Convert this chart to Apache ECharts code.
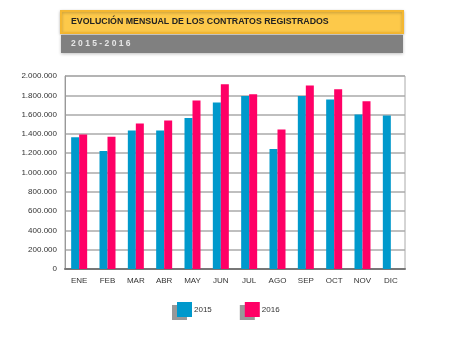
<!DOCTYPE html>
<html><head><meta charset="utf-8">
<script src="https://cdn.jsdelivr.net/npm/echarts@6/dist/echarts.min.js"></script>
<style>html,body{margin:0;padding:0;background:#fff}#c{width:450px;height:343px}</style>
</head><body><div id="c"></div>
<script>
var months = ['ENE','FEB','MAR','ABR','MAY','JUN','JUL','AGO','SEP','OCT','NOV','DIC'];
var v2015 = [1364000,1222000,1436000,1436000,1566000,1725000,1793000,1243000,1793000,1756000,1601000,1591000];
var v2016 = [1395000,1370000,1508000,1539000,1746000,1914000,1811000,1446000,1901000,1862000,1739000,null];
var seriesNames = ['2015','2016'];
var title = 'EVOLUCIÓN MENSUAL DE LOS CONTRATOS REGISTRADOS';
var subtitle = '2 0 1 5 - 2 0 1 6';

var chart = echarts.init(document.getElementById('c'));
function fmt(v){ return String(v).replace(/\B(?=(\d{3})+(?!\d))/g,'.'); }
chart.setOption({
  animation:false,
  textStyle:{fontFamily:'Liberation Sans, Arial, sans-serif'},
  grid:{left:65,right:45,top:76,bottom:74,show:true,borderColor:'#aaa',borderWidth:1},
  graphic:[
    {type:'rect',shape:{x:61,y:11,width:342,height:22},style:{fill:'#FDC94A',stroke:'#F4B731',lineWidth:2,shadowBlur:3,shadowColor:'rgba(0,0,0,0.25)',shadowOffsetY:1}},
    {type:'text',x:71,y:22,style:{text:title,font:'bold 8.8px Liberation Sans, Arial',fill:'#222',verticalAlign:'middle'}},
    {type:'rect',shape:{x:61,y:35,width:342,height:18},style:{fill:'#808080',shadowBlur:3,shadowColor:'rgba(0,0,0,0.25)',shadowOffsetY:1}},
    {type:'text',x:71,y:44,style:{text:subtitle,font:'bold 8.5px Liberation Sans, Arial',fill:'#e6e6e6',verticalAlign:'middle'}}
  ],
  legend:{
    data:seriesNames,bottom:21,left:172,itemGap:33,itemWidth:15,itemHeight:15,
    icon:'rect',
    textStyle:{fontSize:8,color:'#333',padding:[0,0,0,-3]},
    itemStyle:{shadowColor:'#999',shadowOffsetX:-5,shadowOffsetY:3,shadowBlur:0}
  },
  xAxis:{type:'category',data:months,
    axisLine:{lineStyle:{color:'#777',width:2}},axisTick:{show:false},
    axisLabel:{fontSize:8,color:'#333',margin:8}},
  yAxis:{type:'value',min:0,max:2000000,interval:200000,
    axisLine:{show:true,lineStyle:{color:'#999'}},axisTick:{show:false},
    axisLabel:{fontSize:8,color:'#333',margin:8,formatter:fmt},
    splitLine:{lineStyle:{color:'#aaa',width:1.5}}},
  series:[
    {name:seriesNames[0],type:'bar',data:v2015,barWidth:8,barGap:'0%',itemStyle:{color:'#0099CC'}},
    {name:seriesNames[1],type:'bar',data:v2016,barWidth:8,itemStyle:{color:'#FF0066'}}
  ]
});
</script></body></html>
